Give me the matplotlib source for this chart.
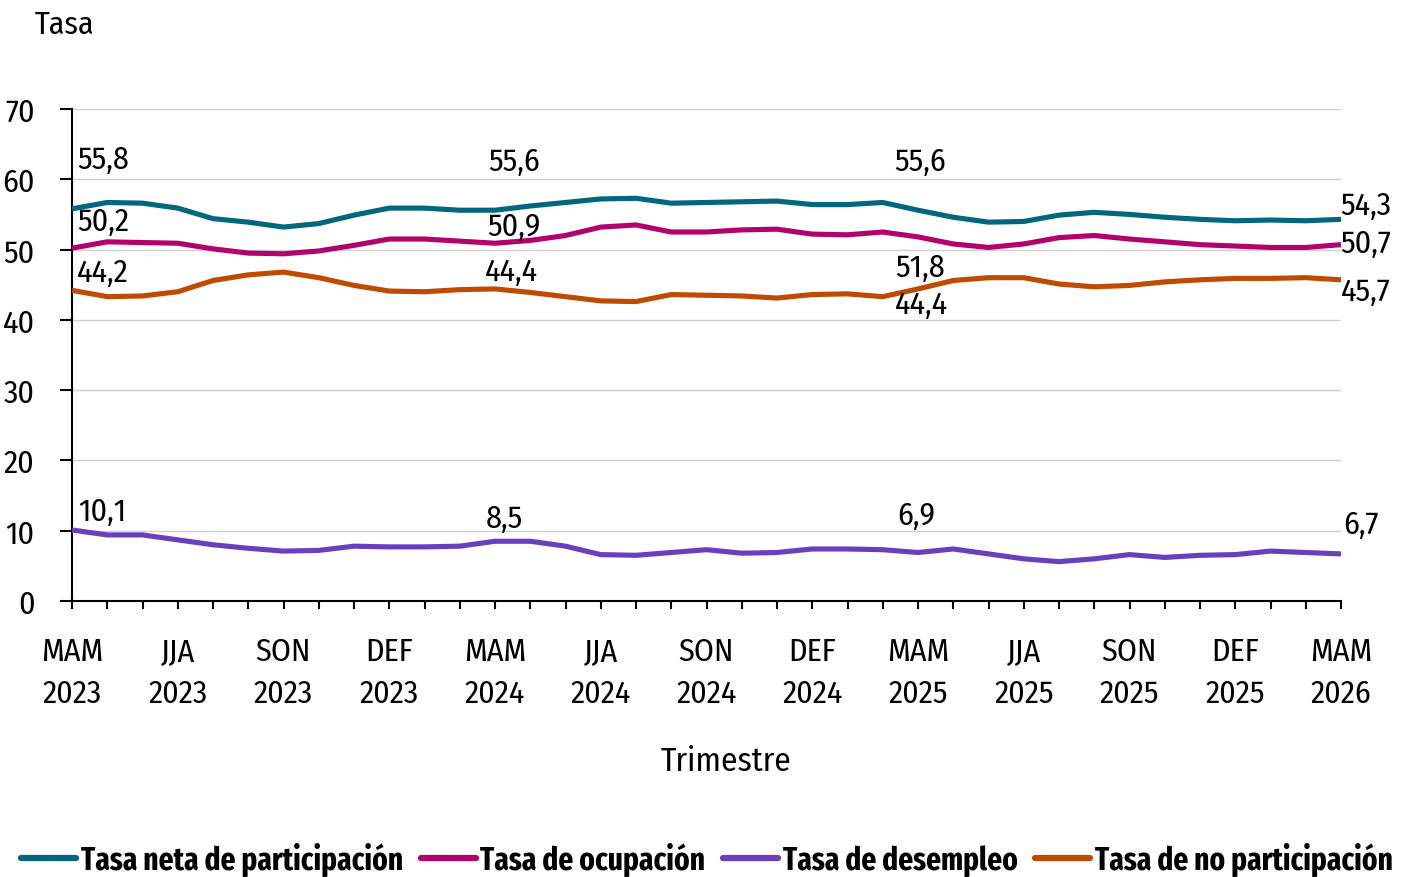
import matplotlib
matplotlib.use("Agg")
import matplotlib.pyplot as plt
from matplotlib import font_manager

_names = {f.name for f in font_manager.fontManager.ttflist}


def _pick(cands):
    for c in cands:
        if c in _names:
            return [c, 'DejaVu Sans']
    return ['DejaVu Sans']


REG = _pick(['Fira Sans Condensed', 'Roboto Condensed', 'Liberation Sans Narrow', 'Roboto'])
BOLD = _pick(['Fira Sans Extra Condensed', 'Asap Condensed', 'Roboto Condensed', 'Liberation Sans Narrow', 'Roboto'])
plt.rcParams['font.family'] = REG

periods = ['MAM\n2023', 'AMJ\n2023', 'MJJ\n2023', 'JJA\n2023', 'JAS\n2023', 'ASO\n2023', 'SON\n2023',
           'OND\n2023', 'NDE\n2023', 'DEF\n2023', 'EFM\n2024', 'FMA\n2024', 'MAM\n2024', 'AMJ\n2024',
           'MJJ\n2024', 'JJA\n2024', 'JAS\n2024', 'ASO\n2024', 'SON\n2024', 'OND\n2024', 'NDE\n2024',
           'DEF\n2024', 'EFM\n2025', 'FMA\n2025', 'MAM\n2025', 'AMJ\n2025', 'MJJ\n2025', 'JJA\n2025',
           'JAS\n2025', 'ASO\n2025', 'SON\n2025', 'OND\n2025', 'NDE\n2025', 'DEF\n2025', 'EFM\n2026',
           'FMA\n2026', 'MAM\n2026']
shown_ticks = [0, 3, 6, 9, 12, 15, 18, 21, 24, 27, 30, 33, 36]

participacion = [55.8, 56.7, 56.6, 55.9, 54.4, 53.9, 53.2, 53.7, 54.9, 55.9, 55.9, 55.6, 55.6,
                 56.2, 56.7, 57.2, 57.3, 56.6, 56.7, 56.8, 56.9, 56.4, 56.4, 56.7, 55.6,
                 54.6, 53.9, 54.0, 54.9, 55.3, 55.0, 54.6, 54.3, 54.1, 54.2, 54.1, 54.3]
ocupacion = [50.2, 51.1, 51.0, 50.9, 50.1, 49.5, 49.4, 49.8, 50.6, 51.5, 51.5, 51.2, 50.9,
             51.3, 52.0, 53.2, 53.5, 52.5, 52.5, 52.8, 52.9, 52.2, 52.1, 52.5, 51.8,
             50.8, 50.3, 50.8, 51.7, 52.0, 51.5, 51.1, 50.7, 50.5, 50.3, 50.3, 50.7]
desempleo = [10.1, 9.4, 9.4, 8.7, 8.0, 7.5, 7.1, 7.2, 7.8, 7.7, 7.7, 7.8, 8.5,
             8.5, 7.8, 6.6, 6.5, 6.9, 7.3, 6.8, 6.9, 7.4, 7.4, 7.3, 6.9,
             7.4, 6.7, 6.0, 5.6, 6.0, 6.6, 6.2, 6.5, 6.6, 7.1, 6.9, 6.7]
no_participacion = [44.2, 43.3, 43.4, 44.0, 45.6, 46.4, 46.8, 46.0, 44.9, 44.1, 44.0, 44.3, 44.4,
                    43.9, 43.3, 42.7, 42.6, 43.6, 43.5, 43.4, 43.1, 43.6, 43.7, 43.3, 44.4,
                    45.6, 46.0, 46.0, 45.1, 44.7, 44.9, 45.4, 45.7, 45.9, 45.9, 46.0, 45.7]

series_names = ['Tasa neta de participación', 'Tasa de ocupación', 'Tasa de desempleo',
                'Tasa de no participación']
series_values = [participacion, ocupacion, desempleo, no_participacion]
colors = ['#00677F', '#B2006C', '#6A3FBE', '#BF4B00']

labeled_idx = [0, 12, 24, 36]
# label anchor positions (x in index units, y in data units), order:
# participacion, ocupacion, no_participacion, desempleo
label_pos = {
    0: [(0.88, 62.9), (0.88, 54.05), (0.88, 46.8), (0.85, 12.8)],
    12: [(12.54, 62.6), (12.54, 53.3), (12.48, 46.9), (12.28, 11.8)],
    24: [(24.06, 62.6), (24.06, 47.5), (24.1, 42.2), (23.94, 12.2)],
    36: [(36.7, 56.3), (36.7, 50.9), (36.7, 44.1), (36.58, 11.0)],
}
lab_series = [participacion, ocupacion, no_participacion, desempleo]

W, H = 1406, 878
fig = plt.figure(figsize=(W / 100, H / 100), dpi=100)
ax = fig.add_axes([72 / W, 1 - 602 / H, (1341 - 72) / W, (602 - 110) / H])

x = list(range(len(periods)))
handles = []
for name, vals, c in zip(series_names, series_values, colors):
    h, = ax.plot(x, vals, color=c, lw=3.7, label=name, solid_joinstyle='round',
                 solid_capstyle='butt', zorder=3)
    handles.append(h)

fs = 23
for i in labeled_idx:
    for (lx, ly), vals in zip(label_pos[i], lab_series):
        ax.text(lx, ly, f"{vals[i]:.1f}".replace('.', ','), ha='center', va='center',
                fontsize=fs, color='black', clip_on=False, zorder=4)

ax.set_xlim(0, len(periods) - 1)
ax.set_ylim(0, 70)
ax.set_yticks(range(0, 71, 10))
ax.set_xticks(x)
ax.set_xticklabels([periods[i] if i in shown_ticks else '' for i in x], fontsize=fs,
                   linespacing=1.5)
ax.tick_params(axis='x', length=6, width=1.5, pad=19, direction='out', color='black')
ax.tick_params(axis='y', length=9, width=1.5, pad=18, labelsize=fs, color='black')
for s in ['top', 'right']:
    ax.spines[s].set_visible(False)
for s in ['left', 'bottom']:
    ax.spines[s].set_linewidth(1.5)
    ax.spines[s].set_color('black')
ax.grid(axis='y', color='#D0D0D0', lw=1.0, zorder=0)
ax.set_axisbelow(True)

fig.text(726 / W, 1 - 762 / H, 'Trimestre', ha='center', va='center', fontsize=24)
fig.text(35 / W, 1 - 25 / H, 'Tasa', ha='left', va='center', fontsize=fs)

leg = fig.legend(handles=handles, labels=series_names, loc='center', ncol=4,
                 bbox_to_anchor=(707 / W, 1 - 860 / H), frameon=False,
                 prop={'size': fs, 'weight': 'bold', 'family': BOLD}, handlelength=1.72,
                 handletextpad=0.15, columnspacing=0.55, borderaxespad=0, borderpad=0)
for lh in leg.get_lines():
    lh.set_linewidth(4.5)
    lh.set_solid_capstyle('round')

fig.savefig('out.png', dpi=100)
